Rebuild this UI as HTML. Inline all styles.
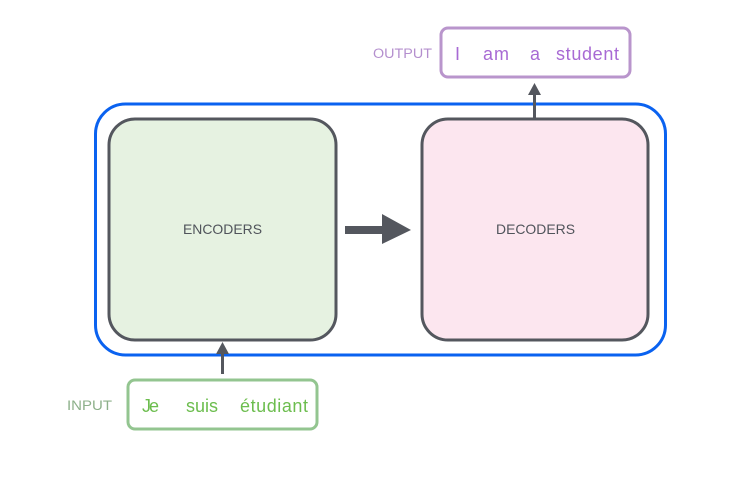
<!DOCTYPE html>
<html><head><style>body{margin:0;background:#fff}</style></head><body>
<svg width="756" height="474" xmlns="http://www.w3.org/2000/svg" font-family="Liberation Sans, sans-serif">
<rect x="95.5" y="104" width="570" height="251" rx="30" fill="none" stroke="#0a62f0" stroke-width="3"/>
<rect x="109" y="119" width="227" height="221" rx="26" fill="#e6f2e1" stroke="#54575e" stroke-width="3"/>
<rect x="422" y="119" width="226" height="221" rx="26" fill="#fce6ef" stroke="#54575e" stroke-width="3"/>
<text x="183" y="234" font-size="14" fill="#50545b" textLength="79" lengthAdjust="spacingAndGlyphs">ENCODERS</text>
<text x="496" y="234" font-size="14" fill="#50545b" textLength="79" lengthAdjust="spacingAndGlyphs">DECODERS</text>
<rect x="345" y="226" width="38" height="8" fill="#54575e"/>
<polygon points="382,214 411,230 382,244" fill="#54575e"/>
<line x1="534.5" y1="118" x2="534.5" y2="92" stroke="#54575e" stroke-width="3"/>
<polygon points="528,95 534.5,83 541,95" fill="#54575e"/>
<line x1="222.5" y1="374" x2="222.5" y2="352" stroke="#54575e" stroke-width="3"/>
<polygon points="216,354 222.5,342 229,354" fill="#54575e"/>
<rect x="441" y="28" width="189" height="49" rx="7" fill="#fff" stroke="#b995cc" stroke-width="3"/>
<text x="373" y="58" font-size="13.5" fill="#b48fce" textLength="59" lengthAdjust="spacingAndGlyphs">OUTPUT</text>
<g font-size="18" fill="#a86ad4"><text x="455" y="60">I</text><text x="483" y="60" textLength="26">am</text><text x="530" y="60">a</text><text x="556" y="60" textLength="63">student</text></g>
<rect x="128" y="380" width="189" height="49" rx="7" fill="#fff" stroke="#93c590" stroke-width="3"/>
<text x="67" y="410" font-size="13.5" fill="#8db08a" textLength="45" lengthAdjust="spacingAndGlyphs">INPUT</text>
<g font-size="18" fill="#6cbd4e"><text x="142" y="412" textLength="17">Je</text><text x="186" y="412" textLength="32">suis</text><text x="240" y="412" textLength="68">étudiant</text></g>
</svg>
</body></html>
